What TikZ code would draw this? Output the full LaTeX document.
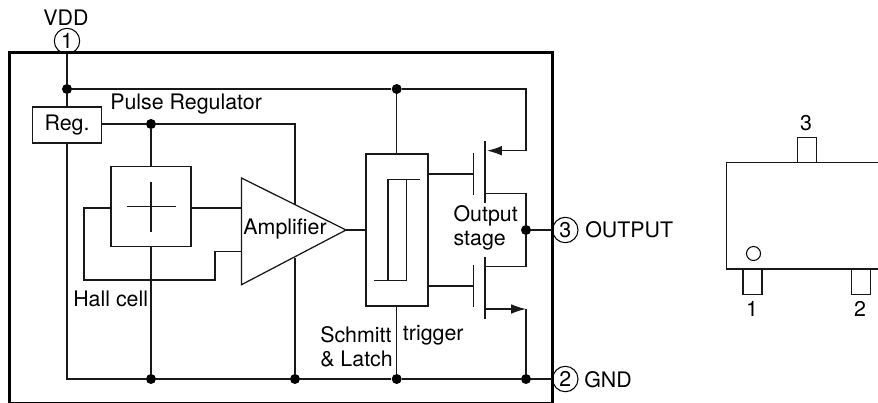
\documentclass[tikz,border=0pt]{standalone}
\usepackage{fontspec}
\setmainfont{TeX Gyre Heros}
\usetikzlibrary{arrows.meta, calc}
\tikzset{
    wire/.style={line width=0.9pt, black!90},
    junction/.style={circle, fill=black, inner sep=0pt, minimum size=0.25cm},
    block/.style={draw, line width=0.9pt, black!90, text=black, inner sep=0pt},
    pinmark/.style={circle, draw, line width=0.75pt, inner sep=0pt, minimum size=0.635cm},
    lead/.style={block, minimum width=0.475cm, minimum height=0.64cm},
    lbl/.style={inner sep=0pt, font=\fontsize{15.2}{18}\selectfont},
    srcarrow/.style={wire, -{Latex[length=10.5pt, width=6.8pt]}},
}

\begin{document}
\begin{tikzpicture}[x=0.025cm, y=-0.025cm]
    \useasboundingbox (0,0) rectangle (878,402);

    \node[draw, line width=1.7pt, minimum width=13.575cm, minimum height=8.75cm, inner sep=0pt] (chip) at (281,227.7) {};

    \node[pinmark, lbl] (pinone) at (67,41) {1};
    \node[pinmark, lbl] (pintwo) at (565.3,379) {2};
    \node[pinmark, lbl] (pinthree) at (565.3,230) {3};
    \node[lbl] (vddlabel) at (66,18) {VDD};
    \node[lbl, anchor=west] (gndlabel) at (584,380) {GND};
    \node[lbl, anchor=west] (outlabel) at (585,230) {OUTPUT};

    \node[block, lbl, minimum width=1.73cm, minimum height=0.9cm] (reg) at (67,125) {Reg.};
    \node[block, minimum width=2cm, minimum height=2cm] (hall) at (151,206.5) {};
    \node[block, minimum width=1.55cm, minimum height=3.8cm] (schmitt) at (397,230) {};

    \node[junction] (vdddot) at (67,89) {};
    \node[junction] (vddsplit) at (396.7,89) {};
    \node[junction] (regdot) at (151,124) {};
    \node[junction] (halldot) at (151,379) {};
    \node[junction] (ampdot) at (295,379) {};
    \node[junction] (latchdot) at (396.7,379) {};
    \node[junction] (gnddot) at (526,379) {};
    \node[junction] (outdot) at (526,230) {};

    % supply and ground rails
    \draw[wire] (pinone) -- (vdddot);
    \draw[wire] (vdddot) -- (reg.north -| vdddot);
    \draw[wire] (vdddot) -- (vddsplit);
    \draw[wire] (reg.south -| vdddot) |- (halldot);
    \draw[wire] (halldot) -- (ampdot);
    \draw[wire] (ampdot) -- (latchdot);
    \draw[wire] (latchdot) -- (gnddot);
    \draw[wire] (gnddot) -- (pintwo);
    \draw[wire] (vddsplit) -- (schmitt.north -| vddsplit);
    \draw[wire] (schmitt.south -| latchdot) -- (latchdot);

    % regulator output
    \coordinate (regcorner) at (295,124);
    \coordinate (ampfeedin) at (295,204.7);
    \coordinate (ampfeedout) at (295,258);
    \draw[wire] (reg.east |- regdot) -- (regdot);
    \draw[wire] (regdot) -- (regcorner) -- (ampfeedin);
    \draw[wire] (ampfeedout) -- (ampdot);
    \draw[wire] (regdot) -- (hall.north -| regdot);
    \draw[wire] (hall.south -| halldot) -- (halldot);

    % Hall element cross
    \coordinate (crossn) at (151,182);
    \coordinate (crosss) at (151,231.5);
    \coordinate (crossw) at (126.7,206.7);
    \coordinate (crosse) at (176,206.7);
    \draw[wire] (crossn) -- (crosss);
    \draw[wire] (crossw) -- (crosse);

    % amplifier
    \coordinate (amptop) at (241.5,178);
    \coordinate (ampbot) at (241.5,284.7);
    \coordinate (amptip) at (346,230);
    \draw[wire] (amptop) -- (ampbot) -- (amptip) -- cycle;
    \node[lbl] (amplabel) at (285,229) {Amplifier};
    \coordinate (ampinp) at (241.5,208);
    \coordinate (ampinn) at (241.5,251.7);
    \coordinate (hallw) at (84,208);
    \coordinate (hallsw) at (84,280);
    \coordinate (hallse) at (215,280);
    \coordinate (hallne) at (215,251.7);
    \draw[wire] (hall.east |- ampinp) -- (ampinp);
    \draw[wire] (hall.west |- hallw) -- (hallw) -- (hallsw) -- (hallse) -- (hallne) -- (ampinn);
    \draw[wire] (amptip) -- (schmitt.west |- amptip);

    % hysteresis symbol
    \coordinate (hysa) at (388,179.3);
    \coordinate (hysb) at (420,179.3);
    \coordinate (hysc) at (406.3,179.3);
    \coordinate (hysd) at (388,280.7);
    \coordinate (hyse) at (406.3,280.7);
    \coordinate (hysf) at (374.3,280.7);
    \draw[wire] (hysd) -- (hysa) -- (hysb);
    \draw[wire] (hysc) -- (hyse) -- (hysf);

    % output transistors
    \coordinate (upgate) at (473.7,174);
    \coordinate (upgatea) at (473.7,153);
    \coordinate (upgateb) at (473.7,195);
    \coordinate (upchana) at (485,141);
    \coordinate (upchanb) at (485,203);
    \coordinate (upsrc) at (526,150.7);
    \coordinate (upsrctip) at (487,150.7);
    \coordinate (updrn) at (485,193.3);
    \coordinate (updrnc) at (526,193.3);
    \coordinate (lowgate) at (473.7,286);
    \coordinate (lowgatea) at (473.7,265);
    \coordinate (lowgateb) at (473.7,306.7);
    \coordinate (lowchana) at (485,256.7);
    \coordinate (lowchanb) at (485,319);
    \coordinate (lowdrn) at (485,266.7);
    \coordinate (lowdrnc) at (526,266.7);
    \coordinate (lowsrc) at (485,309);
    \coordinate (lowsrcc) at (526,309);
    \draw[wire] (vddsplit) -| (upsrc);
    \draw[srcarrow] (upsrc) -- (upsrctip);
    \draw[wire] (schmitt.east |- upgate) -- (upgate);
    \draw[wire] (upgatea) -- (upgateb);
    \draw[wire] (upchana) -- (upchanb);
    \draw[wire] (updrn) -- (updrnc) -- (outdot);
    \draw[wire] (outdot) -- (lowdrnc) -- (lowdrn);
    \draw[wire] (outdot) -- (pinthree);
    \draw[wire] (schmitt.east |- lowgate) -- (lowgate);
    \draw[wire] (lowgatea) -- (lowgateb);
    \draw[wire] (lowchana) -- (lowchanb);
    \draw[srcarrow] (lowsrc) -- (lowsrcc);
    \draw[wire] (lowsrcc) -- (gnddot);

    \node[lbl, anchor=west] (pulselabel) at (110,104) {Pulse Regulator};
    \node[lbl, anchor=west] (halllabel) at (73,299) {Hall cell};
    \node[lbl, anchor=west] (schmittlabel) at (320,335) {Schmitt};
    \node[lbl, anchor=west] (triggerlabel) at (402.7,335) {trigger};
    \node[lbl, anchor=west] (latchlabel) at (320,359) {\& Latch};
    \node[lbl, anchor=west] (outputlabel) at (453.3,216) {Output};
    \node[lbl, anchor=west] (stagelabel) at (453.3,241) {stage};

    % package outline, cut off by the right edge
    \coordinate (pkgne) at (878,162.7);
    \coordinate (pkgnw) at (726.7,162.7);
    \coordinate (pkgsw) at (726.7,269);
    \coordinate (pkgse) at (878,269);
    \node[lead] (leadthree) at (806.8,150) {};
    \node[lead] (leadone) at (752.6,281.8) {};
    \node[lead] (leadtwo) at (860.8,281.8) {};
    \draw[wire] (pkgne) -- (pkgnw) -- (pkgsw) -- (pkgse);
    \node[draw, circle, line width=0.75pt, inner sep=0pt, minimum size=0.35cm] (pkgmark) at (753.5,253.5) {};
    \node[lbl] (numthree) at (806,123) {3};
    \node[lbl] (numone) at (752,309) {1};
    \node[lbl] (numtwo) at (860,309) {2};
\end{tikzpicture}
\end{document}
